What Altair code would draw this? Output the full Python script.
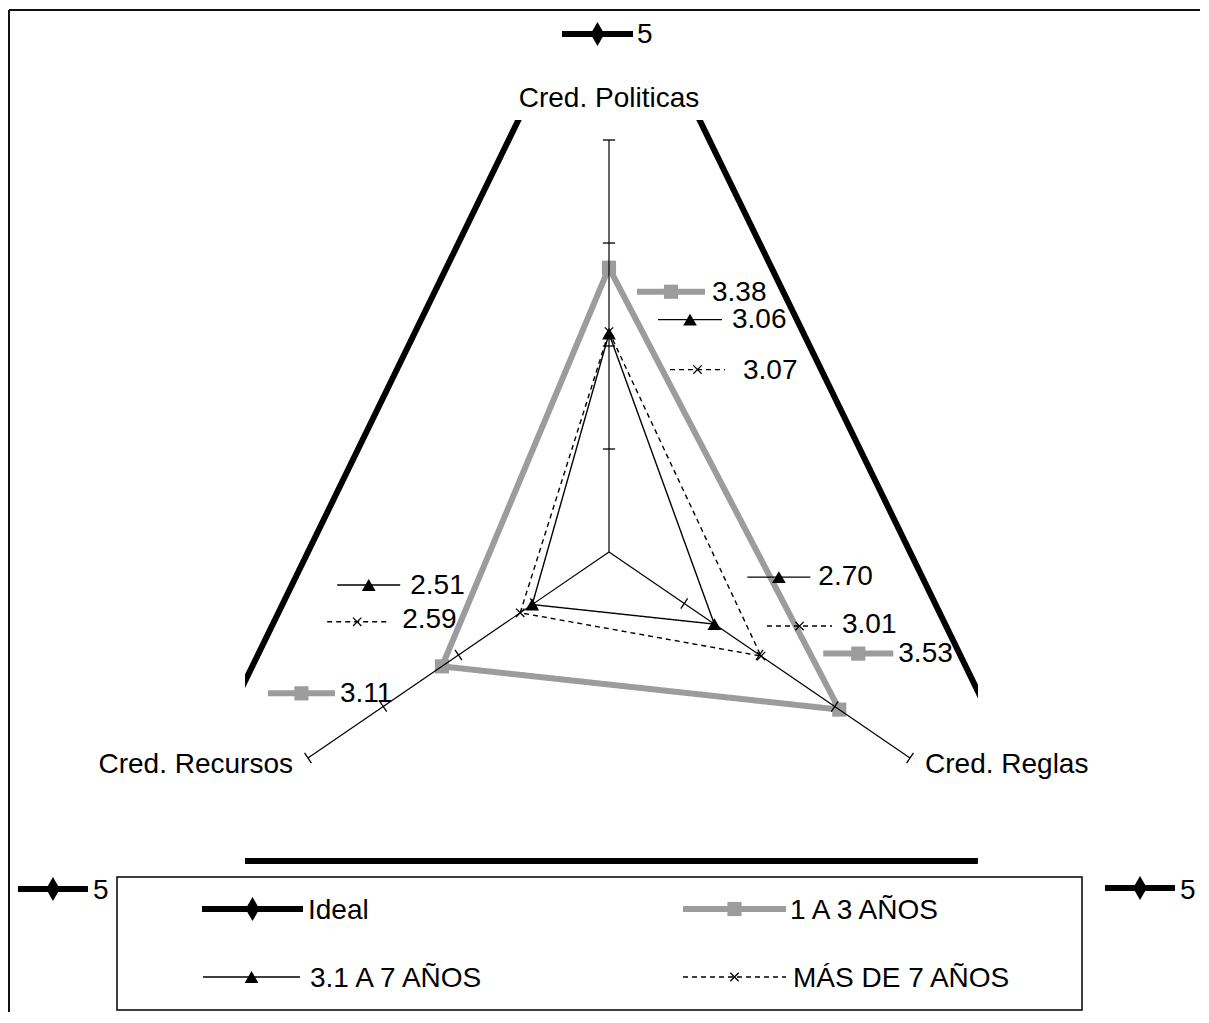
import altair as alt
import pandas as pd

# ---------------- data ----------------
categories = ["Cred. Politicas", "Cred. Reglas", "Cred. Recursos"]
series_names = ["Ideal", "1 A 3 AÑOS", "3.1 A 7 AÑOS", "MÁS DE 7 AÑOS"]
ideal = [5, 5, 5]
anios_1_3 = [3.38, 3.53, 3.11]
anios_3_7 = [3.06, 2.70, 2.51]
anios_mas_7 = [3.07, 3.01, 2.59]
axis_min = 2
axis_max = 4
tick_values = [2.5, 3.0, 3.5, 4.0]

# ---------------- layout / style ----------------
FONT = "Liberation Sans, Arial, sans-serif"
FS = 28
W, H = 733, 760
PAD = {"left": 237, "top": 112, "right": 222, "bottom": 132}
X_DOMAIN = [-2.0944, 2.1232]
Y_DOMAIN = [-1.5922, 2.0971]
GRAY = "#9c9c9c"
DIAMOND = "M0,-1.3L0.75,0L0,1.3L-0.75,0Z"
XMARK = "M-1,-1L1,1M-1,1L1,-1"

STYLE = {
    "Ideal": dict(color="black", width=6, dash=[1, 0], shape=DIAMOND, filled=True, size=340),
    "1 A 3 AÑOS": dict(color=GRAY, width=6, dash=[1, 0], shape="square", filled=True, size=200),
    "3.1 A 7 AÑOS": dict(color="black", width=1.4, dash=[1, 0], shape="triangle-up", filled=True, size=190),
    "MÁS DE 7 AÑOS": dict(color="black", width=1.4, dash=[5, 4], shape=XMARK, filled=False, size=70),
}

# label placement (pixel offsets from the data point): series, axis idx, key x0, key x1, key y, text x, text y(mid)
LABELS = [
    ("1 A 3 AÑOS", 0, 28, 96, 24, 103, 23),
    ("3.1 A 7 AÑOS", 0, 49, 113, -14, 123, -16),
    ("MÁS DE 7 AÑOS", 0, 61, 116, 38, 134, 37),
    ("1 A 3 AÑOS", 2, -174, -107, 27, -102, 26),
    ("3.1 A 7 AÑOS", 2, -195, -132, -19.5, -122, -20.5),
    ("MÁS DE 7 AÑOS", 2, -193, -133, 9, -118, 5),
    ("1 A 3 AÑOS", 1, -16, 54, -56, 59, -58),
    ("3.1 A 7 AÑOS", 1, 33, 96, -47, 104, -49),
    ("MÁS DE 7 AÑOS", 1, 6, 71, -30, 81, -33),
    ("Ideal", 0, -47, 24, 100, 28, 99),
    ("Ideal", 2, -139.5, -69.5, 28, -64.5, 28),
    ("Ideal", 1, 44.5, 114.5, 27, 119.5, 28),
]

# legend placement (pixels relative to the plot origin): key x0, key x1, y mid, text x
LEGEND = {
    "Ideal": (-43, 58, 789, 63),
    "1 A 3 AÑOS": (438, 541, 789, 545),
    "3.1 A 7 AÑOS": (-42, 55, 857, 65),
    "MÁS DE 7 AÑOS": (438, 541, 857, 548),
}

# ---------------- tables ----------------
rows = []
for name, vals in zip(series_names, [ideal, anios_1_3, anios_3_7, anios_mas_7]):
    for i, (c, v) in enumerate(zip(categories, vals)):
        rows.append({"series": name, "category": c, "idx": i, "value": v})
df = pd.DataFrame(rows)

axes_df = pd.DataFrame({"category": categories, "idx": list(range(len(categories)))})
ticks_df = pd.DataFrame(
    [{"idx": i, "value": t} for i in range(len(categories)) for t in tick_values]
)

ANG = "datum.idx * 2 * PI / 3"
PX = f"(datum.value - {axis_min}) * sin({ANG})"
PY = f"(datum.value - {axis_min}) * cos({ANG})"

xs = alt.Scale(domain=X_DOMAIN, nice=False, zero=False)
ys = alt.Scale(domain=Y_DOMAIN, nice=False, zero=False)
X = alt.X("px:Q", scale=xs, axis=None)
Y = alt.Y("py:Q", scale=ys, axis=None)

base = alt.Chart(df).transform_calculate(px=PX, py=PY)

layers = []

# frame (left and top edges of the chart border)
layers.append(
    alt.Chart(alt.Data(values=[{}])).mark_rule(color="#111", strokeWidth=2).encode(
        x=alt.value(-236), y=alt.value(-110), y2=alt.value(920)
    )
)
layers.append(
    alt.Chart(alt.Data(values=[{}])).mark_rule(color="#111", strokeWidth=2).encode(
        x=alt.value(-236), x2=alt.value(980), y=alt.value(-110)
    )
)

def series_line(name, clip=False):
    st = STYLE[name]
    return base.transform_filter(alt.datum.series == name).mark_line(
        interpolate="linear-closed", clip=clip, color=st["color"],
        strokeWidth=st["width"], strokeDash=st["dash"]
    ).encode(x=X, y=Y, order="idx:Q")

def series_points(name):
    st = STYLE[name]
    return base.transform_filter(alt.datum.series == name).mark_point(
        shape=st["shape"], filled=st["filled"], size=st["size"], color=st["color"],
        opacity=1, strokeWidth=1.3
    ).encode(x=X, y=Y)

layers.append(series_line("Ideal", clip=True))
layers.append(series_line("1 A 3 AÑOS"))
layers.append(series_points("1 A 3 AÑOS"))

# radial axes
layers.append(
    alt.Chart(axes_df).transform_calculate(
        px=f"({axis_min} - {axis_min}) * sin({ANG})",
        py=f"({axis_min} - {axis_min}) * cos({ANG})",
        px2=f"({axis_max} - {axis_min}) * sin({ANG})",
        py2=f"({axis_max} - {axis_min}) * cos({ANG})",
    ).mark_rule(color="black", strokeWidth=1.2).encode(
        x=X, y=Y, x2="px2:Q", y2="py2:Q"
    )
)
# tick marks
layers.append(
    alt.Chart(ticks_df).transform_calculate(
        px=PX, py=PY,
        ta="datum.idx == 0 ? 0 : (datum.idx == 1 ? 124.4 : 55.6)",
    ).mark_point(shape="stroke", size=150, color="black", strokeWidth=1.3, opacity=1).encode(
        x=X, y=Y, angle=alt.Angle("ta:Q", scale=None)
    )
)

for name in ["3.1 A 7 AÑOS", "MÁS DE 7 AÑOS"]:
    layers.append(series_line(name))
    layers.append(series_points(name))

# category labels
CAT_POS = {0: ("center", 0, -33), 1: ("left", 15, 15), 2: ("right", -15, 15)}
for i in range(len(categories)):
    al, dx, dy = CAT_POS[i]
    layers.append(
        alt.Chart(axes_df).transform_filter(alt.datum.idx == i).transform_calculate(
            value=f"{axis_max}", px=PX, py=PY
        ).mark_text(
            font=FONT, fontSize=FS, align=al, baseline="alphabetic", dx=dx, dy=dy, color="black"
        ).encode(x=X, y=Y, text="category:N")
    )

# data labels with legend keys
for s, i, kx0, kx1, ky, tx, ty in LABELS:
    st = STYLE[s]
    sub = base.transform_filter((alt.datum.series == s) & (alt.datum.idx == i))
    layers.append(
        sub.mark_rule(
            xOffset=kx0, x2Offset=kx1, yOffset=ky, color=st["color"],
            strokeWidth=st["width"], strokeDash=st["dash"]
        ).encode(x=X, x2="px:Q", y=Y)
    )
    layers.append(
        sub.mark_point(
            xOffset=(kx0 + kx1) / 2, yOffset=ky, shape=st["shape"], filled=st["filled"],
            size=st["size"], color=st["color"], opacity=1, strokeWidth=1.3
        ).encode(x=X, y=Y)
    )
    fmt = ".0f" if s == "Ideal" else ".2f"
    layers.append(
        sub.mark_text(
            font=FONT, fontSize=FS, align="left", baseline="alphabetic",
            dx=tx, dy=ty + 10, color="black"
        ).encode(x=X, y=Y, text=alt.Text("value:Q", format=fmt))
    )

# legend box
layers.append(
    alt.Chart(alt.Data(values=[{}])).mark_rect(fill="white", stroke="black", strokeWidth=1.5).encode(
        x=alt.value(-128), x2=alt.value(837), y=alt.value(757), y2=alt.value(890)
    )
)
legend_df = pd.DataFrame({"series": series_names})
for s in series_names:
    st = STYLE[s]
    x0, x1, ym, tx = LEGEND[s]
    one = alt.Chart(legend_df).transform_filter(alt.datum.series == s)
    layers.append(
        one.mark_rule(color=st["color"], strokeWidth=st["width"], strokeDash=st["dash"]).encode(
            x=alt.value(x0), x2=alt.value(x1), y=alt.value(ym)
        )
    )
    layers.append(
        one.mark_point(shape=st["shape"], filled=st["filled"], size=st["size"],
                       color=st["color"], opacity=1, strokeWidth=1.3).encode(
            x=alt.value((x0 + x1) / 2), y=alt.value(ym)
        )
    )
    layers.append(
        one.mark_text(font=FONT, fontSize=FS, align="left", baseline="alphabetic",
                      color="black").encode(
            x=alt.value(tx), y=alt.value(ym + 10), text="series:N"
        )
    )

chart = alt.layer(*layers).properties(
    width=W, height=H, padding=PAD,
    autosize=alt.AutoSizeParams(type="none"),
    background="white",
).configure_view(stroke=None)

chart.save("out.html", embed_options={"renderer": "svg", "actions": False})
